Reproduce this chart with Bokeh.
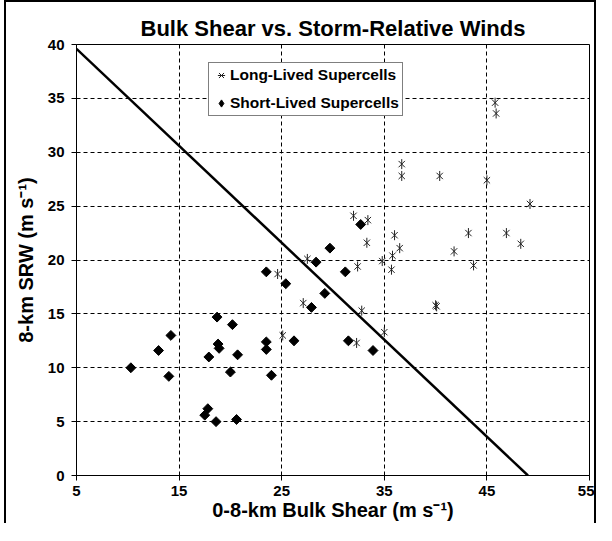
import math
from bokeh.plotting import figure
from bokeh.models import Legend, LegendItem, FixedTicker, Range1d
from bokeh.embed import file_html
from bokeh.resources import INLINE

# ---- data ----
long_x = [25.1, 24.6, 27.1, 27.5, 32.3, 32.8, 35.0, 32.0, 33.4, 33.3, 32.4, 34.8,
          35.7, 35.8, 36.0, 36.5, 36.7, 36.7, 40.4, 45.0, 49.2, 43.2, 46.9, 48.3,
          41.8, 43.7, 40.0, 40.1, 45.8, 45.9]
long_y = [13.0, 18.7, 16.0, 20.1, 12.3, 15.3, 13.3, 24.1, 23.7, 21.6, 19.4, 19.9,
          19.1, 20.4, 22.3, 21.1, 28.9, 27.8, 27.8, 27.4, 25.2, 22.5, 22.5, 21.5,
          20.8, 19.5, 15.8, 15.7, 34.6, 33.6]
short_x = [10.3, 13.0, 14.2, 14.0, 18.7, 20.2, 18.8, 18.9, 17.9, 20.7, 20.0, 23.5,
           23.5, 24.0, 17.8, 17.5, 18.6, 20.6, 23.5, 25.4, 29.2, 27.9, 28.35, 29.7,
           31.2, 32.7, 26.2, 31.5, 33.9]
short_y = [10.0, 11.6, 13.0, 9.2, 14.7, 14.0, 12.2, 11.8, 11.0, 11.2, 9.6, 12.4,
           11.7, 9.3, 6.2, 5.6, 5.0, 5.2, 18.9, 17.8, 16.9, 15.6, 19.8, 21.1,
           18.9, 23.3, 12.5, 12.5, 11.6]
line_x = [5, 49]
line_y = [39.6, 0]
x_ticks = [5, 15, 25, 35, 45, 55]
y_ticks = [0, 5, 10, 15, 20, 25, 30, 35, 40]

FONT = "Liberation Sans"

p = figure(width=592, height=523, x_range=Range1d(5, 55), y_range=Range1d(0, 40),
           output_backend="svg", toolbar_location=None,
           min_border_left=70, min_border_right=9, min_border_top=42, min_border_bottom=50)
p.styles = {"border-left": "2px solid black", "border-top": "2px solid black",
            "border-right": "2px solid black", "margin-left": "4px"}

p.title.text = "Bulk Shear vs. Storm-Relative Winds"
p.title.align = "center"
p.title.text_font = FONT
p.title.text_font_size = "22px"
p.title.text_font_style = "bold"
p.title.text_color = "black"
p.title.standoff = 8

p.outline_line_color = "black"
p.outline_line_width = 1

for ax in (p.xaxis[0], p.yaxis[0]):
    ax.major_label_text_font = FONT
    ax.major_label_text_font_size = "15px"
    ax.major_label_text_font_style = "bold"
    ax.major_label_text_color = "black"
    ax.axis_label_text_font = FONT
    ax.axis_label_text_font_size = "20px"
    ax.axis_label_text_font_style = "bold"
    ax.axis_label_text_color = "black"
    ax.major_tick_out = 5
    ax.major_tick_in = 0
    ax.minor_tick_out = 0
    ax.minor_tick_in = 0
    ax.axis_line_color = "black"
    ax.major_tick_line_color = "black"

p.xaxis[0].ticker = FixedTicker(ticks=x_ticks)
p.yaxis[0].ticker = FixedTicker(ticks=y_ticks)
p.xaxis[0].axis_label = "0-8-km Bulk Shear (m s\u207b\u00b9)"
p.yaxis[0].axis_label = "8-km SRW (m s\u207b\u00b9)"
p.xaxis[0].major_label_standoff = 5
p.xaxis[0].axis_label_standoff = 0
p.yaxis[0].major_label_standoff = 7
p.yaxis[0].axis_label_standoff = 8

for g in (p.xgrid[0], p.ygrid[0]):
    g.grid_line_color = "black"
    g.grid_line_dash = "4 3"
    g.grid_line_width = 1

p.line(line_x, line_y, line_color="black", line_width=2.5)

r_lx = p.scatter(long_x, long_y, marker="x", size=9, line_color="#222222", line_width=1)
r_ld = p.scatter(long_x, long_y, marker="dash", angle=math.pi / 2, size=10,
                 line_color="#222222", line_width=1)
r_s = p.scatter(short_x, short_y, marker="square", angle=math.pi / 4, size=7,
                fill_color="black", line_color="black")
# hidden diamond renderer used only for the legend swatch
r_sl = p.scatter(short_x, short_y, marker="diamond", size=10,
                 fill_color="black", line_color="black", visible=False)

legend = Legend(items=[LegendItem(label="Long-Lived Supercells", renderers=[r_lx, r_ld]),
                       LegendItem(label="Short-Lived Supercells", renderers=[r_sl])],
                location=(132, 359))
legend.label_text_font = FONT
legend.label_text_font_size = "15.5px"
legend.label_text_font_style = "bold"
legend.label_text_color = "black"
legend.border_line_color = "black"
legend.border_line_width = 1
legend.background_fill_alpha = 1
legend.inactive_fill_alpha = 0
legend.padding = 3
legend.spacing = 10
legend.margin = 0
legend.glyph_width = 18
legend.glyph_height = 18
legend.label_height = 18
legend.label_width = 166
legend.label_standoff = 0
legend.click_policy = "none"
p.add_layout(legend)

open("out.html", "w").write(file_html(p, INLINE))
